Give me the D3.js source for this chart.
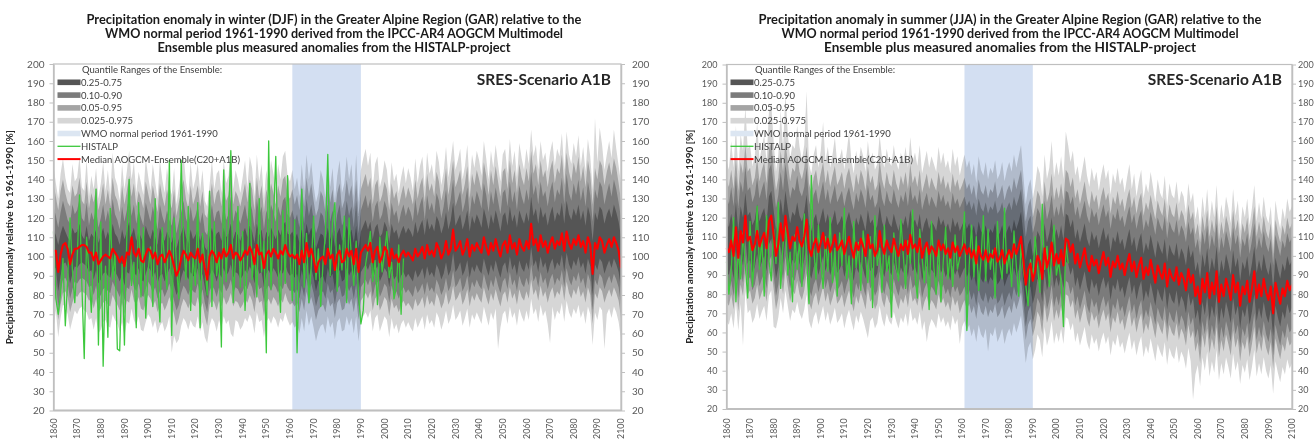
<!DOCTYPE html>
<html>
<head>
<meta charset="utf-8">
<script src="https://cdn.jsdelivr.net/npm/d3@7"></script>
<style>
html, body { margin: 0; padding: 0; background: #ffffff; }
svg { display: block; font-family: Lato, "Open Sans", "Liberation Sans", sans-serif; }
</style>
</head>
<body>
<svg id="chart" width="1314" height="441"></svg>
<script>
// ---------- categories and tick labels ----------
const firstYear = 1860;
const lastYear = 2100;
const xTickYears = [1860, 1870, 1880, 1890, 1900, 1910, 1920, 1930, 1940, 1950, 1960, 1970,
  1980, 1990, 2000, 2010, 2020, 2030, 2040, 2050, 2060, 2070, 2080, 2090, 2100];
const yTicks = [20, 30, 40, 50, 60, 70, 80, 90, 100, 110, 120, 130, 140, 150, 160, 170, 180, 190, 200];
const wmoPeriod = [1961, 1990];

// ---------- winter (DJF) ----------
const winterMedian = [
  103,103,92,101,106,107,104,96,101,104,
  104,105,106,106,105,102,102,98,102,96,
  98,100,101,100,99,104,102,100,97,100,
  95,102,101,110,102,100,104,98,97,101,
  104,103,99,102,96,100,101,97,100,103,
  100,95,90,93,99,103,101,98,102,100,
  99,104,97,101,94,88,100,103,101,97,
  102,99,104,100,102,106,99,102,101,98,
  100,103,101,105,102,96,106,101,102,94,
  101,103,100,104,102,99,103,101,106,102,
  100,101,99,101,96,103,97,107,100,104,
  99,92,97,99,100,96,104,99,101,93,
  101,103,97,98,104,100,103,96,104,92,
  102,104,106,103,107,97,103,105,97,100,
  105,103,95,104,99,101,97,101,103,100,
  102,100,98,104,100,102,105,99,106,101,
  103,100,107,104,99,102,108,101,104,114,
  103,105,108,101,104,109,100,106,103,107,
  104,102,110,105,101,107,103,109,104,100,
  106,108,102,111,104,107,101,109,105,103,
  108,104,117,106,109,103,111,105,108,102,
  107,110,104,108,106,112,103,113,107,104,
  109,106,111,105,108,102,110,106,91,107,
  104,110,108,102,106,109,105,110,107,103,
  94];

const winterHistalp = [
  113,78,70,81,99,64,88,120,93,76,
  98,132,85,47,110,92,71,104,135,54,
  118,43,95,58,125,88,102,52,51,96,
  54,110,140,85,97,63,128,79,115,68,
  92,105,74,130,88,66,115,97,83,150,
  59,120,96,78,150,108,88,126,72,100,
  85,128,63,112,95,80,134,74,118,90,
  102,53,145,87,120,155,76,99,126,84,
  113,72,96,138,88,104,79,130,92,108,
  50,160,83,118,152,95,71,124,86,142,
  103,77,119,50,98,135,84,112,76,95,
  121,88,104,74,97,112,153,90,118,128,
  82,106,93,121,76,120,99,85,108,80,
  65,72,96,104,113,87,98,75,110,92,
  102,113,89,97,78,84,106,70,99];

const winterQ975 = [
  147,138,130,143,151,141,135,133,148,139,
  141,152,136,134,150,131,142,135,146,130,
  138,149,134,145,132,154,141,137,129,148,
  135,144,155,140,149,133,144,138,132,151,
  142,134,148,139,130,150,140,133,146,137,
  132,146,127,136,145,153,139,132,149,135,
  140,148,134,145,129,126,137,150,135,143,
  145,133,150,138,142,156,135,145,140,133,
  141,150,136,152,146,131,153,139,148,130,
  145,137,150,143,135,148,140,152,155,142,
  139,145,135,141,131,148,134,153,140,149,
  137,128,133,145,140,130,150,136,146,129,
  142,150,133,138,152,140,148,131,153,128,
  145,151,156,147,154,135,148,152,136,141,
  150,145,132,149,139,143,133,141,147,138,
  146,141,134,151,138,147,152,136,154,143,
  148,139,155,149,137,144,157,141,150,160,
  145,150,156,140,147,158,138,153,146,155,
  150,142,160,151,140,155,146,158,148,139,
  153,156,143,161,147,155,141,159,151,145,
  156,148,166,152,158,145,160,150,154,144,
  154,160,147,156,152,164,145,165,153,148,
  159,152,163,147,157,144,161,152,135,172,
  149,167,158,145,153,160,151,166,156,147,
  138];
const winterQ95 = [
  138,131,124,134,140,133,128,126,137,131,
  133,141,129,127,139,125,133,128,136,124,
  130,138,127,135,126,141,132,129,123,137,
  127,134,142,131,138,126,134,130,125,139,
  133,127,137,130,123,138,131,126,135,129,
  125,135,121,128,134,140,130,125,137,127,
  131,137,126,134,122,120,129,138,127,133,
  135,126,138,129,132,143,127,134,131,126,
  132,138,128,140,135,124,141,130,137,123,
  135,129,138,133,127,137,131,140,142,132,
  130,135,127,132,124,137,126,141,131,138,
  129,121,125,134,131,123,138,128,135,122,
  133,138,125,129,140,131,137,124,140,121,
  135,139,143,136,141,127,137,140,128,132,
  139,135,124,138,130,134,126,132,137,130,
  136,132,127,140,130,137,141,128,143,134,
  138,131,144,139,129,135,146,132,140,150,
  136,140,145,132,138,147,130,143,137,145,
  140,134,149,142,132,145,137,147,139,131,
  144,146,135,150,138,145,133,148,141,137,
  146,139,155,143,148,137,150,141,145,136,
  145,150,138,146,143,153,137,154,144,139,
  149,143,152,139,147,136,150,143,127,146,
  140,150,147,137,144,149,142,151,146,138,
  129];
const winterQ90 = [
  126,121,115,123,129,124,119,117,127,122,
  124,130,120,118,128,116,123,119,125,115,
  120,127,118,124,117,130,122,119,114,126,
  118,124,131,121,127,117,124,120,116,128,
  123,118,126,120,114,127,121,117,124,119,
  116,124,112,118,123,129,120,116,126,118,
  121,126,117,123,113,111,119,127,118,123,
  124,117,127,119,122,131,118,124,121,117,
  122,127,119,129,124,115,130,121,126,114,
  124,119,127,123,118,126,121,129,131,122,
  120,124,118,122,115,126,117,130,121,127,
  119,112,116,123,121,114,127,118,124,113,
  122,127,116,119,129,121,126,115,129,112,
  124,128,132,125,130,118,126,129,119,122,
  129,125,115,128,121,124,117,123,127,121,
  126,123,118,130,121,127,131,119,132,124,
  128,122,133,129,120,126,135,123,130,140,
  126,130,134,123,128,136,121,132,127,134,
  130,125,138,132,123,134,127,136,129,122,
  133,135,126,139,128,134,124,137,131,127,
  135,129,144,132,137,127,139,131,134,126,
  134,139,128,135,132,141,127,143,133,129,
  138,132,140,129,136,126,139,132,118,135,
  130,139,136,127,133,138,131,140,135,128,
  120];
const winterQ75 = [
  114,111,106,112,116,113,110,108,115,112,
  113,117,111,109,116,108,112,110,114,107,
  111,115,109,113,108,117,112,110,106,114,
  109,113,118,111,115,108,113,110,107,116,
  112,109,114,110,106,115,111,108,113,110,
  107,113,104,109,112,116,110,107,114,109,
  111,114,108,112,105,103,110,115,109,112,
  113,108,115,110,112,117,109,113,111,108,
  112,115,110,116,113,107,117,111,114,106,
  113,110,115,112,109,114,111,116,118,112,
  111,113,109,112,107,114,108,117,111,115,
  110,104,108,112,111,106,115,109,113,105,
  112,115,108,110,116,111,114,107,116,104,
  113,116,119,114,118,109,115,117,110,112,
  118,115,107,117,112,114,109,113,116,112,
  115,113,110,118,112,116,119,111,120,114,
  117,113,121,118,112,116,123,114,119,128,
  116,119,122,114,118,124,113,121,117,122,
  119,115,125,120,114,122,117,124,119,113,
  121,123,116,126,118,122,115,124,120,117,
  123,118,131,121,125,117,126,120,123,116,
  122,126,118,123,121,128,117,129,122,119,
  125,121,127,119,124,116,126,121,108,123,
  119,126,124,117,122,125,120,127,123,118,
  110];
const winterQ25 = [
  93,94,82,90,96,97,94,86,91,95,
  94,96,97,96,95,92,93,88,93,86,
  88,91,92,90,89,95,92,90,87,91,
  85,92,91,99,92,90,94,88,87,91,
  95,93,89,92,86,90,91,87,90,94,
  90,85,80,83,89,93,91,88,92,90,
  89,94,87,91,84,78,90,93,91,87,
  92,89,94,90,92,96,89,92,91,88,
  90,93,91,95,92,86,96,91,92,84,
  91,93,90,94,92,89,93,91,96,92,
  90,91,89,91,86,93,87,97,90,94,
  89,82,87,89,90,86,94,89,91,83,
  91,93,87,88,94,90,93,86,94,82,
  92,94,96,93,97,87,93,95,87,90,
  94,92,84,93,88,90,86,90,92,89,
  91,89,87,93,89,91,94,88,95,90,
  92,89,96,93,88,91,97,90,93,102,
  92,94,97,90,93,98,89,95,92,96,
  93,91,99,94,90,96,92,98,93,89,
  95,97,91,100,93,96,90,98,94,92,
  97,93,105,95,98,92,100,94,97,91,
  96,99,93,97,95,101,92,102,96,93,
  98,95,100,94,97,91,99,95,80,96,
  93,99,97,91,95,98,94,99,96,92,
  83];
const winterQ10 = [
  84,86,74,82,88,89,86,78,83,87,
  86,88,89,88,87,84,85,80,85,78,
  80,83,84,82,81,87,84,82,79,83,
  77,84,83,90,84,82,86,80,79,83,
  87,85,81,84,78,82,83,79,82,86,
  82,77,72,75,81,85,83,80,84,82,
  81,86,79,83,76,71,82,85,83,79,
  84,81,86,82,84,88,81,84,83,80,
  82,85,83,87,84,78,88,83,84,76,
  83,85,82,86,84,81,85,83,88,84,
  82,83,81,83,78,85,79,89,82,86,
  81,74,79,81,82,78,86,81,83,75,
  83,85,79,80,86,82,85,78,86,74,
  84,86,88,85,89,79,85,87,79,82,
  86,84,76,85,80,82,78,82,84,81,
  83,81,79,85,81,83,86,80,87,82,
  84,81,88,85,80,83,89,82,85,93,
  84,86,89,82,85,90,81,87,84,88,
  85,83,91,86,82,88,84,90,85,81,
  87,89,83,92,85,88,82,90,86,84,
  89,85,96,87,90,84,92,86,89,83,
  88,91,85,89,87,93,84,94,88,85,
  90,87,92,86,89,83,91,87,72,88,
  85,91,89,83,87,90,86,91,88,84,
  75];
const winterQ05 = [
  76,79,67,75,81,82,79,71,76,80,
  79,81,82,81,80,77,78,73,78,71,
  73,76,77,75,74,80,77,75,72,76,
  70,77,76,83,77,75,79,73,72,76,
  80,78,74,77,71,75,76,72,75,79,
  75,70,64,68,74,78,76,73,77,75,
  74,79,72,76,69,64,75,78,76,72,
  77,74,79,75,77,81,74,77,76,73,
  75,78,76,80,77,71,81,76,77,69,
  76,78,75,79,77,74,78,76,81,77,
  75,76,74,76,71,78,72,82,75,79,
  74,67,72,74,75,71,79,74,76,68,
  76,78,72,73,79,75,78,71,79,67,
  77,79,81,78,82,72,78,80,72,75,
  79,77,69,78,73,75,71,75,77,74,
  76,74,72,78,74,76,79,73,80,75,
  77,74,81,78,73,76,82,75,78,85,
  77,79,82,75,78,83,74,80,77,81,
  78,76,84,79,75,81,77,83,78,74,
  80,82,76,84,78,81,75,83,79,77,
  82,78,88,80,83,77,85,79,82,76,
  81,84,78,82,80,86,77,87,81,78,
  83,80,85,79,82,76,84,80,65,81,
  78,84,82,76,80,83,79,84,81,77,
  68];
const winterQ025 = [
  63,72,58,68,75,74,70,62,67,72,
  70,73,74,72,71,67,68,62,68,60,
  62,66,67,64,63,70,67,65,61,66,
  59,66,65,73,67,64,69,62,61,66,
  70,68,63,67,60,64,66,61,64,69,
  50,59,55,57,64,68,66,62,67,64,
  63,69,61,66,58,55,64,68,66,61,
  67,63,69,65,67,60,58,67,66,62,
  64,68,66,70,67,60,71,66,67,58,
  66,68,65,69,67,63,68,66,71,67,
  64,66,63,65,60,68,61,72,64,69,
  63,56,61,64,65,60,69,63,66,57,
  66,68,61,62,69,64,68,60,69,56,
  67,69,71,68,72,61,68,70,61,65,
  69,67,58,68,62,65,60,65,67,63,
  66,63,61,68,63,66,69,62,70,65,
  67,63,71,68,62,66,72,65,68,75,
  67,69,72,64,68,73,63,70,67,71,
  68,65,74,69,64,71,67,73,52,63,
  70,72,65,74,68,71,64,73,69,66,
  72,67,78,70,73,66,75,69,72,65,
  55,74,67,72,70,76,66,77,71,68,
  73,70,75,68,72,65,74,70,54,71,
  67,74,72,52,70,73,68,74,71,66,
  57];

// ---------- summer (JJA) ----------
const summerMedian = [
  104,102,108,100,115,99,113,107,121,108,
  110,103,106,113,105,109,112,104,118,121,
  111,100,106,117,108,121,112,104,110,108,
  115,108,105,110,119,104,100,106,109,102,
  107,112,104,109,102,106,111,103,105,108,
  101,106,110,104,99,107,103,109,105,100,
  111,104,106,100,103,113,105,101,108,104,
  102,109,104,100,106,103,108,101,111,104,
  106,102,109,99,104,107,101,105,103,100,
  108,103,106,101,104,99,107,102,105,100,
  103,106,101,104,99,103,96,105,100,98,
  103,97,101,99,104,97,99,103,96,100,
  103,99,106,101,105,110,98,85,93,96,
  87,92,100,97,88,104,94,99,107,95,
  101,96,103,95,109,108,102,106,96,101,
  94,99,104,96,92,100,95,98,91,97,
  102,95,99,89,97,94,100,93,96,90,
  96,101,92,97,89,95,99,88,94,90,
  98,92,86,95,91,88,96,84,93,89,
  87,94,85,91,88,82,93,86,90,79,
  84,75,88,81,91,78,86,80,92,76,
  85,79,88,83,77,90,81,86,74,84,
  80,87,76,83,92,78,85,79,88,81,
  77,84,70,86,80,75,83,79,87,82,
  85];

const summerHistalp = [
  97,80,92,120,76,104,88,112,95,78,
  118,84,101,126,93,109,79,121,98,87,
  114,96,128,83,106,119,90,102,76,111,
  93,108,84,122,99,75,142,104,88,116,
  97,83,110,92,120,86,104,79,112,95,
  125,88,100,75,118,94,107,82,113,99,
  86,110,73,121,95,104,81,116,92,100,
  68,112,95,87,119,101,83,108,96,124,
  90,78,114,99,86,106,72,118,94,80,
  108,76,97,115,88,102,84,111,93,99,
  104,123,61,95,116,89,110,82,98,121,
  87,114,93,103,78,118,96,88,125,91,
  102,84,113,95,79,106,92,85,74,98,
  88,110,95,81,127,93,105,84,100,116,
  90,97,86,63,107,96];

const summerQ975 = [
  150,145,160,146,168,144,164,155,178,156,
  158,147,152,170,150,157,163,149,175,180,
  160,144,153,176,156,185,164,151,158,156,
  168,157,150,158,186,148,143,153,158,146,
  155,170,149,157,146,153,162,148,151,156,
  145,154,165,150,143,155,148,157,152,144,
  160,149,154,145,148,163,151,146,156,149,
  147,158,149,145,154,148,157,146,162,149,
  154,147,158,143,149,155,146,152,148,144,
  157,148,154,146,150,143,156,147,152,142,
  148,153,146,150,142,148,138,152,145,142,
  149,140,146,143,150,140,143,149,139,145,
  149,144,153,146,152,158,142,127,136,140,
  130,137,147,143,131,153,140,146,160,141,
  149,142,152,140,165,158,149,155,142,147,
  138,145,152,142,136,146,139,144,134,142,
  148,140,145,132,143,138,146,137,141,133,
  141,148,135,143,131,139,145,130,138,133,
  144,136,128,140,133,130,142,126,138,132,
  130,139,127,134,131,122,138,128,133,119,
  126,115,131,121,135,118,129,120,137,116,
  127,119,131,125,117,135,121,129,113,126,
  120,130,116,125,137,118,128,119,131,121,
  117,126,108,129,120,114,125,119,130,123,
  126];
const summerQ95 = [
  140,136,145,135,152,134,149,143,158,144,
  146,137,141,151,139,145,149,138,156,159,
  147,134,141,155,144,160,149,139,146,144,
  153,144,140,146,157,138,133,141,145,136,
  143,149,138,145,136,142,147,137,140,144,
  135,142,146,139,133,143,137,145,141,134,
  147,138,142,134,137,150,140,135,144,138,
  136,145,138,134,142,137,144,135,148,138,
  142,136,145,133,138,143,135,141,137,134,
  144,137,142,135,139,133,143,136,140,134,
  137,141,135,138,132,137,129,140,134,132,
  137,130,135,133,139,130,133,137,129,134,
  137,133,141,135,140,145,132,118,126,130,
  120,126,134,131,121,139,128,133,143,129,
  136,130,138,129,145,143,136,141,130,135,
  127,133,139,130,125,134,128,132,124,131,
  136,129,133,122,131,127,134,126,130,123,
  130,135,125,131,122,129,133,121,128,124,
  132,125,119,129,124,121,130,117,127,122,
  120,128,118,124,121,114,127,119,123,111,
  117,107,121,113,124,110,119,112,126,108,
  118,111,121,116,109,124,113,119,106,117,
  112,120,108,116,126,110,118,111,121,113,
  109,117,101,119,112,107,116,111,120,114,
  117];
const summerQ90 = [
  131,127,136,126,142,125,139,133,147,134,
  136,128,132,141,130,135,139,129,145,148,
  137,125,132,144,134,148,139,130,136,134,
  142,134,131,136,146,129,124,132,135,127,
  133,139,129,135,127,132,137,128,131,134,
  126,132,136,129,124,133,128,135,131,125,
  137,129,132,125,128,139,130,126,134,129,
  127,135,129,125,132,128,134,126,137,129,
  132,127,135,124,129,133,126,131,128,125,
  134,128,132,126,129,124,133,127,130,125,
  128,131,126,129,124,128,121,130,125,123,
  128,122,126,124,129,122,124,128,121,125,
  128,124,131,126,130,135,123,110,118,121,
  112,117,125,122,113,129,119,124,132,120,
  126,121,128,120,134,133,127,131,121,126,
  119,124,129,121,117,125,120,123,116,122,
  127,120,124,114,122,119,125,118,121,115,
  121,126,117,122,114,120,124,113,119,115,
  123,117,111,120,116,113,121,109,118,114,
  112,119,110,116,113,107,118,111,115,104,
  109,100,113,106,116,103,111,105,117,101,
  110,104,113,108,102,115,106,111,99,109,
  105,112,101,108,117,103,110,104,113,106,
  102,109,95,111,105,100,108,104,112,107,
  110];
const summerQ75 = [
  118,115,122,114,128,113,126,120,133,121,
  123,116,119,127,118,122,125,117,131,134,
  124,113,119,130,121,134,125,117,123,121,
  128,121,118,123,132,117,113,119,122,115,
  120,125,117,122,115,119,124,116,118,121,
  114,119,123,117,112,120,116,122,118,113,
  124,117,119,113,116,126,118,114,121,117,
  115,122,117,113,119,116,121,114,124,117,
  119,115,122,112,117,120,114,118,116,113,
  121,116,119,114,117,112,120,115,118,113,
  116,119,114,117,112,116,109,118,113,111,
  116,110,114,112,117,110,112,116,109,113,
  116,112,119,114,118,123,111,98,106,109,
  100,105,113,110,101,117,107,112,120,108,
  114,109,116,108,122,121,115,119,109,114,
  107,112,117,109,105,113,108,111,104,110,
  115,108,112,102,110,107,113,106,109,103,
  109,114,105,110,102,108,112,101,107,103,
  111,105,99,108,104,101,109,97,106,102,
  100,107,98,104,101,95,106,99,103,92,
  97,88,101,94,104,91,99,93,105,89,
  98,92,101,96,90,103,94,99,87,97,
  93,100,89,96,105,91,98,92,101,94,
  90,97,83,99,93,88,96,92,100,95,
  98];
const summerQ25 = [
  92,90,96,88,103,87,101,95,109,96,
  98,91,94,101,93,97,100,92,106,109,
  99,88,94,105,96,109,100,92,98,96,
  103,96,93,98,107,92,88,94,97,90,
  95,100,92,97,90,94,99,91,93,96,
  89,94,98,92,87,95,91,97,93,88,
  99,92,94,88,91,101,93,89,96,92,
  90,97,92,88,94,91,96,89,99,92,
  94,90,97,87,92,95,89,93,91,88,
  96,91,94,89,92,87,95,90,93,88,
  91,94,89,92,87,91,84,93,88,86,
  91,85,89,87,92,85,87,91,84,88,
  91,87,94,89,93,98,86,73,81,84,
  75,80,88,85,76,92,82,87,95,83,
  89,84,91,83,97,96,90,94,84,89,
  82,87,92,84,80,88,83,86,79,85,
  89,83,87,77,85,82,88,81,84,78,
  84,89,80,85,77,83,87,76,82,78,
  86,80,74,83,79,76,84,72,81,77,
  75,82,73,79,76,70,81,74,78,67,
  72,63,76,69,79,66,74,68,80,64,
  73,67,76,71,65,78,69,74,62,72,
  68,75,64,71,80,66,73,67,76,69,
  65,72,58,74,68,63,71,67,75,70,
  73];
const summerQ10 = [
  83,81,87,79,94,78,92,86,100,87,
  89,82,85,92,84,88,91,83,97,100,
  90,79,85,96,87,100,91,83,89,87,
  94,87,84,89,98,83,79,85,88,81,
  86,91,83,88,81,85,90,82,84,87,
  80,85,89,83,78,86,82,88,84,79,
  90,83,85,79,82,92,84,80,87,83,
  81,88,83,79,85,82,87,80,90,83,
  85,81,88,78,83,86,80,84,82,79,
  87,82,85,80,83,78,86,81,84,79,
  81,84,79,82,77,81,74,83,78,76,
  81,75,79,77,82,75,77,81,74,78,
  81,77,84,79,83,88,76,63,71,74,
  65,70,78,75,66,82,72,77,85,73,
  79,74,81,73,87,86,80,84,74,79,
  72,77,82,74,70,78,73,76,69,75,
  79,73,77,67,75,72,78,71,74,68,
  74,79,70,75,67,73,77,66,72,68,
  76,70,64,73,69,66,74,62,71,67,
  65,72,63,69,66,60,71,64,68,57,
  62,52,66,59,69,56,64,58,70,54,
  63,57,66,61,55,68,59,64,52,62,
  58,65,54,61,70,56,63,57,66,59,
  55,62,48,64,58,53,61,57,65,60,
  62];
const summerQ05 = [
  76,74,80,72,87,71,85,79,93,80,
  82,75,78,85,77,81,84,76,90,93,
  83,72,78,89,80,93,84,76,82,80,
  87,80,77,82,91,76,72,78,81,74,
  79,84,76,81,74,78,83,75,77,80,
  73,78,82,76,71,79,75,81,77,72,
  83,76,78,72,75,85,77,73,80,76,
  74,81,76,72,78,75,80,73,83,76,
  78,74,81,71,76,79,73,77,75,72,
  80,75,78,73,76,71,79,74,77,70,
  74,77,72,75,70,74,67,76,71,69,
  74,68,72,70,75,68,70,74,67,71,
  74,70,77,72,76,81,69,56,64,67,
  58,63,71,68,59,75,65,70,78,66,
  72,67,74,66,80,79,73,77,67,72,
  65,70,75,67,63,71,66,69,62,68,
  72,66,70,60,68,65,71,64,67,61,
  67,72,63,68,60,66,70,59,65,61,
  69,63,57,66,62,59,67,55,64,60,
  58,65,56,62,59,53,64,57,61,50,
  55,44,59,52,62,49,57,51,63,47,
  56,50,59,54,48,61,52,57,45,55,
  51,58,47,54,63,49,56,50,59,52,
  48,55,41,57,51,46,54,50,58,53,
  55];
const summerQ025 = [
  66,64,70,62,76,61,75,53,82,70,
  72,65,68,75,67,71,74,66,79,82,
  63,62,68,78,70,82,74,66,72,70,
  76,70,67,72,80,66,62,68,71,64,
  69,74,66,71,64,68,73,65,67,70,
  62,68,72,66,61,69,65,71,67,62,
  57,66,68,62,65,74,67,63,70,66,
  64,71,66,62,68,65,70,63,73,66,
  68,64,71,61,66,55,63,67,65,62,
  70,65,68,63,66,61,69,64,67,54,
  63,66,61,64,58,62,55,64,59,57,
  62,50,60,58,63,55,58,62,54,59,
  62,58,65,60,64,69,57,44,52,55,
  46,51,59,56,47,63,53,58,66,54,
  60,55,62,54,68,67,61,65,55,60,
  53,58,63,55,51,59,54,57,50,56,
  60,54,58,48,56,53,59,52,55,49,
  55,60,51,56,48,54,58,47,53,49,
  57,51,45,54,50,47,55,43,52,48,
  46,53,44,50,47,41,52,45,25,38,
  43,32,47,40,50,37,45,39,51,35,
  44,38,47,42,36,49,40,45,33,43,
  39,46,35,42,51,37,44,38,47,40,
  36,43,28,45,39,34,42,38,46,41,
  44];

// ---------- drawing ----------
const years = d3.range(firstYear, lastYear + 1);
const svg = d3.select("#chart");
svg.append("rect").attr("width", 1314).attr("height", 441).attr("fill", "#ffffff");

const bandFills = ["#d6d6d6", "#a4a4a4", "#7b7b7b", "#555555"];
const axisGray = "#bfbfbf";
const labelGray = "#595959";
const histalpGreen = "#3cc83c";
const medianRed = "#ff0000";
const wmoBlue = "#d3dff2";

function drawPanel(p) {
  const x = d3.scaleLinear().domain([firstYear, lastYear]).range([p.left, p.right]);
  const y = d3.scaleLinear().domain([20, 200]).range([p.bottom, p.top]);
  const g = svg.append("g");

  // quantile bands, widest first
  const bands = [
    [p.q025, p.q975], [p.q05, p.q95], [p.q10, p.q90], [p.q25, p.q75]
  ];
  bands.forEach(([lo, hi], k) => {
    const rows = years.map((yr, i) => ({ yr, lo: lo[i], hi: hi[i] }))
      .filter(d => d.lo != null && d.hi != null);
    const area = d3.area()
      .x(d => x(d.yr)).y0(d => y(d.lo)).y1(d => y(d.hi));
    g.append("path").datum(rows).attr("d", area).attr("fill", bandFills[k]);
  });

  // WMO normal period
  g.append("rect")
    .attr("x", x(wmoPeriod[0])).attr("width", x(wmoPeriod[1]) - x(wmoPeriod[0]))
    .attr("y", p.top).attr("height", p.bottom - p.top)
    .attr("fill", wmoBlue).style("mix-blend-mode", "multiply");

  // HISTALP observations
  const line = d3.line().x(d => x(d.yr)).y(d => y(d.v));
  const histRows = p.hist.map((v, i) => ({ yr: firstYear + i, v }));
  g.append("path").datum(histRows).attr("d", line)
    .attr("fill", "none").attr("stroke", histalpGreen).attr("stroke-width", 1.3)
    .attr("stroke-linejoin", "round");

  // ensemble median
  const medRows = p.med.map((v, i) => ({ yr: firstYear + i, v }));
  g.append("path").datum(medRows).attr("d", line)
    .attr("fill", "none").attr("stroke", medianRed).attr("stroke-width", 2.1)
    .attr("stroke-linejoin", "round");

  // plot frame
  g.append("rect").attr("x", p.left).attr("y", p.top)
    .attr("width", p.right - p.left).attr("height", p.bottom - p.top)
    .attr("fill", "none").attr("stroke", axisGray).attr("stroke-width", 1.2);

  // y axes
  const styleAxis = sel => {
    sel.selectAll(".domain").attr("stroke", axisGray).attr("stroke-width", 1.5);
    sel.selectAll(".tick line").attr("stroke", axisGray);
    sel.selectAll(".tick text").attr("fill", labelGray)
      .style("font-size", p.yLabelSize + "px").style("font-family", "Lato, 'Open Sans', sans-serif");
  };
  g.append("g").attr("transform", `translate(${p.left},0)`)
    .call(d3.axisLeft(y).tickValues(yTicks).tickSize(4).tickSizeOuter(0).tickPadding(5))
    .call(styleAxis);
  g.append("g").attr("transform", `translate(${p.right},0)`)
    .call(d3.axisRight(y).tickValues(yTicks).tickSize(4).tickSizeOuter(0).tickPadding(p.rightPad))
    .call(styleAxis);

  // x axis
  g.append("line").attr("x1", p.left).attr("x2", p.right)
    .attr("y1", p.bottom).attr("y2", p.bottom)
    .attr("stroke", axisGray).attr("stroke-width", 1.8);
  g.append("g").selectAll("text").data(xTickYears).join("text")
    .attr("transform", d => `translate(${x(d)},${p.xLabelTop}) rotate(-90)`)
    .attr("text-anchor", "end").attr("dy", "0.35em")
    .attr("fill", labelGray).style("font-size", "8.8px")
    .text(d => d);

  // y axis title
  g.append("text")
    .attr("transform", `translate(${p.titleX},${(p.top + p.bottom) / 2}) rotate(-90)`)
    .attr("text-anchor", "middle")
    .style("font-size", "10px").style("font-weight", "bold").attr("fill", "#262626")
    .text("Precipitation anomaly relative to 1961-1990 [%]");

  // chart title
  p.title.forEach((t, i) => {
    g.append("text").attr("x", p.titleCx).attr("y", 24 + i * 14)
      .attr("text-anchor", "middle")
      .attr("textLength", p.titleWidths[i]).attr("lengthAdjust", "spacingAndGlyphs")
      .style("font-size", "12.5px").style("font-weight", "bold").attr("fill", "#1a1a1a")
      .text(t);
  });

  // scenario label
  g.append("text").attr("x", p.right - 10).attr("y", 85)
    .attr("text-anchor", "end").style("font-size", "15.5px").style("font-weight", "bold")
    .attr("fill", "#262626").text("SRES-Scenario A1B");

  // legend
  const lx = p.left + 4, tx = p.left + 27.5;
  const lg = g.append("g").style("font-size", "9.5px").attr("fill", "#404040");
  lg.append("text").attr("x", tx + 1).attr("y", 72.5).text("Quantile Ranges of the Ensemble:");
  const items = [
    { label: "0.25-0.75", fill: bandFills[3] },
    { label: "0.10-0.90", fill: bandFills[2] },
    { label: "0.05-0.95", fill: bandFills[1] },
    { label: "0.025-0.975", fill: bandFills[0] },
    { label: "WMO normal period 1961-1990", fill: "#dce6f2" },
    { label: "HISTALP", stroke: histalpGreen, w: 1.3 },
    { label: "Median AOGCM-Ensemble(C20+A1B)", stroke: medianRed, w: 2 }
  ];
  items.forEach((it, i) => {
    const cy = 82.3 + i * 12.8;
    if (it.fill) {
      lg.append("rect").attr("x", lx).attr("y", cy - 2.8).attr("width", tx - lx - 0.5)
        .attr("height", 5.6).attr("fill", it.fill);
    } else {
      lg.append("line").attr("x1", lx).attr("x2", tx - 0.5).attr("y1", cy).attr("y2", cy)
        .attr("stroke", it.stroke).attr("stroke-width", it.w);
    }
    lg.append("text").attr("x", tx).attr("y", cy + 3.4).text(it.label);
  });
}

drawPanel({
  left: 53.5, right: 621, top: 64, bottom: 410.5, rightPad: 7, yLabelSize: 10,
  xLabelTop: 418.5, titleX: 12.5,
  titleCx: 334, titleWidths: [495, 458, 353],
  title: [
    "Precipitation enomaly in winter (DJF) in the Greater Alpine Region (GAR) relative to the",
    "WMO normal period 1961-1990 derived from the IPCC-AR4 AOGCM Multimodel",
    "Ensemble plus measured anomalies from the HISTALP-project"
  ],
  med: winterMedian, hist: winterHistalp,
  q025: winterQ025, q05: winterQ05, q10: winterQ10, q25: winterQ25,
  q75: winterQ75, q90: winterQ90, q95: winterQ95, q975: winterQ975
});

drawPanel({
  left: 726.5, right: 1292, top: 64.5, bottom: 409, rightPad: 2, yLabelSize: 9,
  xLabelTop: 418.5, titleX: 693,
  titleCx: 1010, titleWidths: [503, 457, 372],
  title: [
    "Precipitation anomaly in summer (JJA) in the Greater Alpine Region (GAR) relative to the",
    "WMO normal period 1961-1990 derived from the IPCC-AR4 AOGCM Multimodel",
    "Ensemble plus measured anomalies from the HISTALP-project"
  ],
  med: summerMedian, hist: summerHistalp,
  q025: summerQ025, q05: summerQ05, q10: summerQ10, q25: summerQ25,
  q75: summerQ75, q90: summerQ90, q95: summerQ95, q975: summerQ975
});
</script>
</body>
</html>
